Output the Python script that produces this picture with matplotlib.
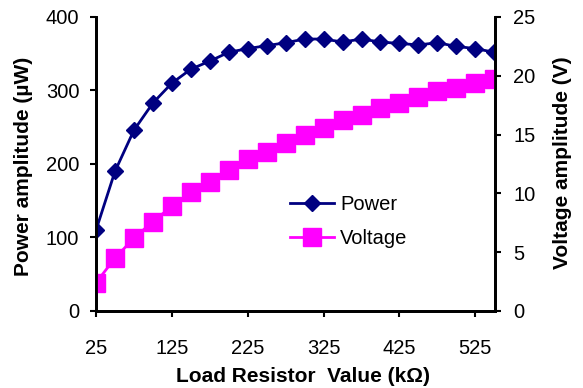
import matplotlib.pyplot as plt

plt.rcParams['font.family'] = ['Liberation Sans', 'DejaVu Sans']

# load resistor values (kOhm)
resistance = [25, 50, 75, 100, 125, 150, 175, 200, 225, 250, 275,
              300, 325, 350, 375, 400, 425, 450, 475, 500, 525, 550]
# power amplitude (uW)
power = [110, 190, 246, 283, 310, 329, 340, 352, 357, 361, 365,
         370, 370, 366, 370, 366, 364, 362, 365, 360, 357, 352]
# voltage amplitude (V)
voltage = [2.4, 4.5, 6.2, 7.6, 8.9, 10.1, 11.0, 12.0, 12.9, 13.5, 14.3,
           15.0, 15.6, 16.2, 16.7, 17.3, 17.7, 18.2, 18.7, 19.0, 19.4, 19.7]
xticks = [25, 125, 225, 325, 425, 525]

fig = plt.figure(figsize=(5.83, 3.88), dpi=100)
ax = fig.add_axes([0.1647, 0.1985, 0.6844, 0.7577])
ax2 = ax.twinx()

l1, = ax.plot(resistance, power, color='#000080', lw=2, marker='D',
              markersize=8.5, label='Power', zorder=3)
l2, = ax2.plot(resistance, voltage, color='#FF00FF', lw=2, marker='s',
               markersize=12.5, label='Voltage')

ax.set_xlim(25, 551)
ax.set_ylim(0, 400)
ax2.set_ylim(0, 25)
ax.set_xticks(xticks)
ax.set_yticks([0, 100, 200, 300, 400])
ax2.set_yticks([0, 5, 10, 15, 20, 25])

for a in (ax, ax2):
    for s in a.spines.values():
        s.set_linewidth(2)
    a.spines['top'].set_visible(False)
ax.tick_params(axis='x', direction='out', length=4, width=1.5, pad=16, labelsize=14.5)
ax.tick_params(axis='y', direction='out', length=4, width=1.5, pad=8, labelsize=14.5)
ax2.tick_params(axis='y', direction='out', length=4, width=1.5, pad=9, labelsize=14.5)

ax.set_xlabel('Load Resistor  Value (k\u03a9)', fontsize=15, fontweight='bold')
ax.set_ylabel('Power amplitude (\u00b5W)', fontsize=15, fontweight='bold')
ax2.set_ylabel('Voltage amplitude (V)', fontsize=15, fontweight='bold', rotation=90)
ax.xaxis.set_label_coords(0.518, -0.19)
ax.yaxis.set_label_coords(-0.158, 0.493)
ax2.yaxis.set_label_coords(1.145, 0.505)

ax2.legend(handles=[l1, l2], loc='center left', bbox_to_anchor=(0.44, 0.305),
           frameon=False, fontsize=14.5, handlelength=2.2, handletextpad=0.3,
           labelspacing=0.75)

fig.savefig('out.png', dpi=100)
